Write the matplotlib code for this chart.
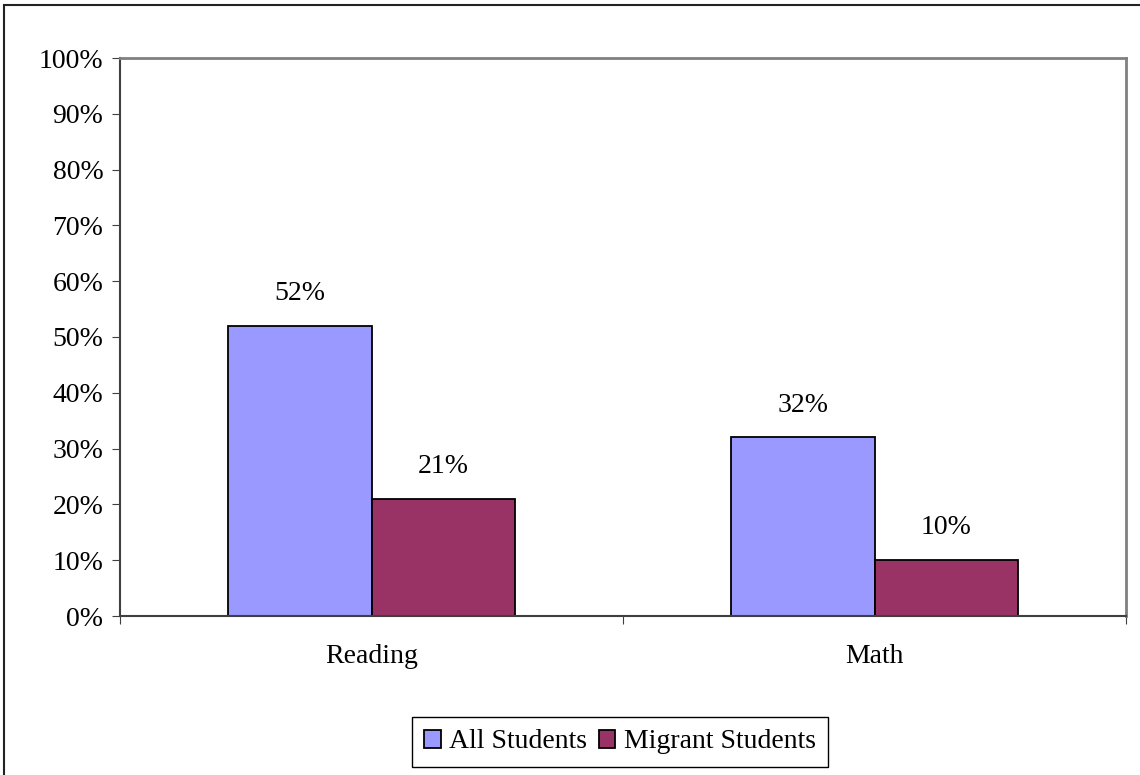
#!/usr/bin/env python3
import numpy as np
import matplotlib
matplotlib.use("Agg")
import matplotlib.pyplot as plt
from matplotlib.patches import Rectangle

# data
categories = ["Reading", "Math"]
all_students = [52, 32]
migrant_students = [21, 10]
series_names = ["All Students", "Migrant Students"]
yticks = list(range(0, 101, 10))

plt.rcParams['font.family'] = ['Liberation Serif', 'DejaVu Serif']
plt.rcParams['font.size'] = 20

fig = plt.figure(figsize=(11.4, 7.75), dpi=100)
ax = fig.add_axes([120/1140, 1-616/775, 1006/1140, 558/775])

x = np.arange(len(categories))
w = 0.286
b1 = ax.bar(x - w/2, all_students, w, color='#9999FF', edgecolor='black', linewidth=1.3, label=series_names[0])
b2 = ax.bar(x + w/2, migrant_students, w, color='#993366', edgecolor='black', linewidth=1.3, label=series_names[1])

for bars in (b1, b2):
    for r in bars:
        h = r.get_height()
        ax.text(r.get_x() + r.get_width()/2, h + 5.8, f"{h:.0f}%", ha='center', va='center')

ax.set_xlim(-0.5, 1.5)
ax.set_ylim(0, 100)
ax.set_yticks(yticks)
ax.set_yticklabels([f"{t}%" for t in yticks])
ax.set_xticks([-0.5, 0.5, 1.5])
ax.set_xticklabels([])
ax.set_xticks(x, minor=True)
ax.set_xticklabels(categories, minor=True)
ax.tick_params(axis='x', which='minor', length=0, pad=20)
ax.tick_params(axis='x', which='major', direction='out', length=6, color='#404040')
ax.tick_params(axis='y', direction='out', length=6, color='#404040', pad=6)

for s in ('top', 'right'):
    ax.spines[s].set_color('#808080')
    ax.spines[s].set_linewidth(2)
for s in ('left', 'bottom'):
    ax.spines[s].set_color('#404040')
    ax.spines[s].set_linewidth(1.5)

fig.legend(loc='center', bbox_to_anchor=(620/1140, 1-742/775), ncol=2,
           frameon=True, fancybox=False, edgecolor='black', framealpha=1,
           handlelength=0.6, handleheight=0.6, handletextpad=0.3, columnspacing=0.4,
           borderpad=0.45, borderaxespad=0)

# outer chart border
fig.patches.append(Rectangle((4/1140, -0.1), 1.2, 1.1 - 5/775, transform=fig.transFigure,
                             fill=False, edgecolor='#222222', linewidth=1.5))

fig.savefig("out.png", dpi=100)
